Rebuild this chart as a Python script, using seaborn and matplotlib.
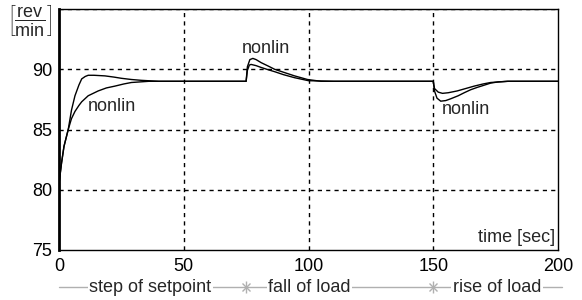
import pandas as pd
import matplotlib
matplotlib.use('Agg')
import matplotlib.pyplot as plt
import seaborn as sns

# step response of the speed control loop
t_lin = [0, 1, 2, 3.7, 5, 6.4, 8, 9.1, 10.5, 11.7, 14, 18.4, 22, 25, 29, 33, 40,
         75, 75.5, 76.3, 77, 79, 81, 84, 86.4, 90, 94.4, 100, 110,
         150, 150.5, 152, 153.7, 156, 159.6, 163, 166.4, 170, 173, 180, 200]
v_lin = [80.5, 82.2, 83.6, 85.0, 86.6, 87.8, 88.7, 89.2, 89.4, 89.5, 89.5, 89.45, 89.35, 89.25, 89.15, 89.08, 89.0,
         89.0, 89.9, 90.35, 90.4, 90.3, 90.15, 89.95, 89.8, 89.55, 89.3, 89.05, 89.0,
         89.0, 88.4, 88.1, 88.0, 88.05, 88.2, 88.4, 88.6, 88.78, 88.9, 89.0, 89.0]

t_nl = [0, 1, 2, 3.7, 5, 6.4, 8, 9.1, 11.7, 15.7, 19, 22.4, 26, 29, 36, 40,
        75, 75.5, 76.5, 77.7, 79, 81, 84, 86.4, 90, 94.4, 99.6, 105,
        150, 150.5, 151.5, 153, 155, 157, 160, 162.4, 165, 167.7, 170, 173, 176, 179.7, 200]
v_nl = [80.5, 82.2, 83.6, 85.0, 85.9, 86.5, 87.0, 87.3, 87.8, 88.2, 88.45, 88.6, 88.78, 88.9, 89.0, 89.0,
        89.0, 90.2, 90.8, 90.9, 90.8, 90.55, 90.25, 90.0, 89.75, 89.45, 89.15, 89.0,
        89.0, 88.2, 87.6, 87.35, 87.4, 87.55, 87.8, 88.05, 88.3, 88.5, 88.65, 88.85, 88.95, 89.0, 89.0]

x_ticks = [0, 50, 100, 150, 200]
y_ticks = [75, 80, 85, 90]
phase_starts = [75, 150]
phase_labels = ['step of setpoint', 'fall of load', 'rise of load']
phase_label_x = [36.5, 100.5, 175.5]

nonlin_label_pos = [(11.6, 86.9), (73.3, 91.7), (153.5, 86.7)]

lin_df = pd.DataFrame({'t': t_lin, 'speed': v_lin})
nl_df = pd.DataFrame({'t': t_nl, 'speed': v_nl})

sns.set_style('white')
plt.rcParams['font.family'] = ['Liberation Sans', 'DejaVu Sans']
plt.rcParams['mathtext.fontset'] = 'custom'
plt.rcParams['mathtext.rm'] = 'Liberation Sans'

fig = plt.figure(figsize=(5.82, 3.0), dpi=100)
ax = fig.add_axes([59 / 582, 50 / 300, (558 - 59) / 582, (250 - 9) / 300])

sns.lineplot(data=lin_df, x='t', y='speed', color='black', lw=1.0, estimator=None, sort=False, ax=ax)
sns.lineplot(data=nl_df, x='t', y='speed', color='black', lw=1.0, estimator=None, sort=False, ax=ax)

ax.set_xlim(0, 200)
ax.set_ylim(75, 95)
ax.set_xticks(x_ticks)
ax.set_yticks(y_ticks)
ax.set_xlabel('')
ax.set_ylabel('')
ax.tick_params(length=0, labelsize=13, colors='black')
ax.tick_params(axis='x', pad=6)
ax.tick_params(axis='y', pad=5)

# dashed grid
for gx in [50, 100, 150]:
    ax.axvline(gx, color='black', ls=(0, (3, 3)), lw=1.0, zorder=0)
for gy in [80, 85, 90, 95]:
    ax.axhline(gy, color='black', ls=(0, (3, 3)), lw=1.0, zorder=0)

for side in ['left', 'bottom', 'right', 'top']:
    ax.spines[side].set_visible(True)
    ax.spines[side].set_color('black')
    ax.spines[side].set_linewidth(1.0)
ax.spines['left'].set_linewidth(2.0)

for x, y in nonlin_label_pos:
    ax.text(x, y, 'nonlin', fontsize=13, ha='left', va='center')

ax.text(0.995, 0.015, 'time [sec]', fontsize=13, ha='right', va='bottom', transform=ax.transAxes)

# unit label at the top left
fig.text(30 / 582, 1 - 20 / 300, r'$\left[\dfrac{\mathrm{rev}}{\mathrm{min}}\right]$',
         fontsize=13, ha='center', va='center')

# phase strip under the axis
trans = ax.get_xaxis_transform()
ax.plot([0, 201.5], [-0.154, -0.154], color='#b0b0b0', lw=1.0, transform=trans, clip_on=False)
for px in phase_starts:
    ax.plot([px], [-0.154], marker='x', ms=6, mew=1.0, color='#b0b0b0', transform=trans, clip_on=False)
    ax.plot([px], [-0.154], marker='|', ms=9, mew=1.0, color='#b0b0b0', transform=trans, clip_on=False)
for lx, lab in zip(phase_label_x, phase_labels):
    ax.text(lx, -0.154, lab, fontsize=13, ha='center', va='center', transform=trans,
            bbox=dict(facecolor='white', edgecolor='none', pad=1.0), clip_on=False)

fig.savefig('out.png', dpi=100)
